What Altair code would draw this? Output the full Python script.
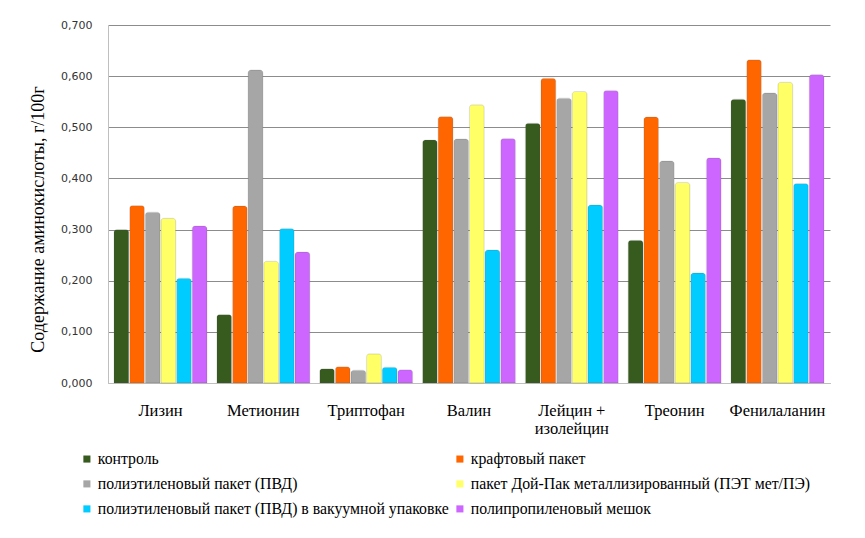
import altair as alt
import pandas as pd

categories = ["Лизин", "Метионин", "Триптофан", "Валин", "Лейцин + изолейцин", "Треонин", "Фенилаланин"]
series = [
    "контроль",
    "крафтовый пакет",
    "полиэтиленовый пакет (ПВД)",
    "пакет Дой-Пак металлизированный (ПЭТ мет/ПЭ)",
    "полиэтиленовый пакет (ПВД) в вакуумной упаковке",
    "полипропиленовый мешок",
]
colors = ["#375a1f", "#ff6600", "#a6a6a6", "#ffff66", "#00ccff", "#cc66ff"]

kontrol = [0.300, 0.134, 0.028, 0.475, 0.508, 0.279, 0.555]
kraft = [0.347, 0.346, 0.032, 0.521, 0.596, 0.520, 0.632]
pvd = [0.334, 0.612, 0.025, 0.477, 0.557, 0.434, 0.567]
doypack = [0.322, 0.238, 0.057, 0.544, 0.570, 0.392, 0.588]
vacuum = [0.205, 0.302, 0.031, 0.260, 0.348, 0.215, 0.390]
pp = [0.307, 0.256, 0.026, 0.478, 0.572, 0.440, 0.603]

values = [kontrol, kraft, pvd, doypack, vacuum, pp]
rows = []
for s, vals in zip(series, values):
    for c, v in zip(categories, vals):
        rows.append({"cat": c, "series": s, "value": v})
df = pd.DataFrame(rows)

# legend is laid out column by column: reorder so it reads row by row like the reference
legend_order = [series[0], series[2], series[4], series[1], series[3], series[5]]
legend_colors = [colors[series.index(s)] for s in legend_order]

serif = "Liberation Serif"
sans = "DejaVu Sans"

chart = alt.Chart(df).mark_bar(cornerRadiusTopLeft=3, cornerRadiusTopRight=3, stroke="#555555", strokeWidth=0.3, strokeOpacity=0.5).encode(
    x=alt.X("cat:N", sort=categories, title=None,
            scale=alt.Scale(paddingInner=0.095, paddingOuter=0.058),
            axis=alt.Axis(labelAngle=0, labelFont=serif, labelFontSize=16.5, labelColor="#000000",
                          labelLineHeight=18, ticks=False, domainColor="#bfbfbf", labelPadding=19,
                          labelExpr="datum.label == 'Лейцин + изолейцин' ? ['Лейцин +', 'изолейцин'] : datum.label")),
    xOffset=alt.XOffset("series:N", sort=series, scale=alt.Scale(paddingInner=0.05)),
    y=alt.Y("value:Q", title="Содержание аминокислоты, г/100г",
            scale=alt.Scale(domain=[0, 0.7], nice=False),
            axis=alt.Axis(values=[0, 0.1, 0.2, 0.3, 0.4, 0.5, 0.6, 0.7],
                          labelExpr="replace(format(datum.value, '.3f'), '.', ',')",
                          labelFont=sans, labelFontSize=11, labelColor="#333333",
                          titleFont=serif, titleFontSize=18, titleFontWeight="normal", titleColor="#000000",
                          titleX=-61, titleY=194, labelPadding=16, ticks=False,
                          domainColor="#bfbfbf", gridColor="#8c8c8c", gridWidth=1)),
    color=alt.Color("series:N", scale=alt.Scale(domain=legend_order, range=legend_colors),
                    legend=alt.Legend(title=None, orient="none", legendX=-29, legendY=426,
                                      columns=2, symbolType="square", symbolSize=50,
                                      symbolStrokeWidth=0, labelFont=serif, labelFontSize=15.8,
                                      labelColor="#000000", rowPadding=8, columnPadding=3,
                                      labelLimit=450, symbolOffset=0, labelOffset=3)),
).properties(
    width=722, height=358,
    autosize=alt.AutoSizeParams(type="none"),
    padding={"left": 100, "top": 17, "right": 20, "bottom": 140},
).configure(font=serif).configure_view(stroke=None).configure_axisY(domain=True)

chart.save("out.html", embed_options={"renderer": "svg", "actions": False})
